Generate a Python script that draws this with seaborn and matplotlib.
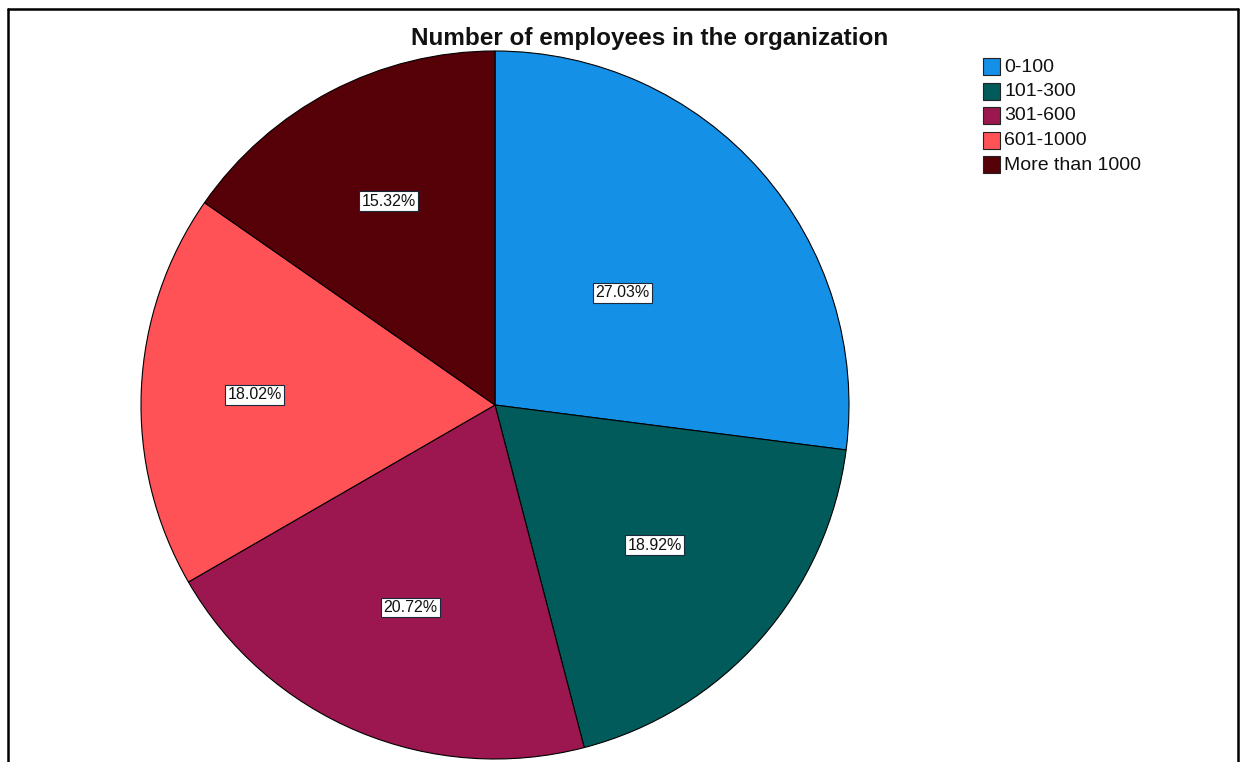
import matplotlib
matplotlib.use("Agg")
import matplotlib.pyplot as plt
import seaborn as sns
import numpy as np
from matplotlib.lines import Line2D

sns.set_theme(style="white")
plt.rcParams['font.family'] = ['Liberation Sans', 'DejaVu Sans']

categories = ["0-100", "101-300", "301-600", "601-1000", "More than 1000"]
counts = [30, 21, 23, 20, 17]
percent_labels = ["27.03%", "18.92%", "20.72%", "18.02%", "15.32%"]
colors = ["#1490E6", "#005B5A", "#9C174F", "#FF5257", "#560008"]
label_radius = [0.48, 0.60, 0.62, 0.68, 0.65]

W, H = 1244, 762
fig = plt.figure(figsize=(W / 100, H / 100), dpi=100)
ax = fig.add_axes([0, 0, 1, 1])

cx, cy, R = 495, H - 405, 354
wedges, _ = ax.pie(counts, colors=colors, startangle=90, counterclock=False,
                   center=(cx, cy), radius=R,
                   wedgeprops=dict(edgecolor="black", linewidth=0.8))
ax.set_xlim(0, W)
ax.set_ylim(0, H)
ax.set_aspect("equal")
ax.axis("off")

for w, lab, rf in zip(wedges, percent_labels, label_radius):
    ang = np.deg2rad((w.theta1 + w.theta2) / 2)
    x = cx + rf * R * np.cos(ang)
    y = cy + rf * R * np.sin(ang)
    ax.text(x, y, lab, ha="center", va="center", fontsize=11.5, color="#111111",
            bbox=dict(boxstyle="square,pad=0.15", facecolor="white",
                      edgecolor="#1a2a3a", linewidth=0.8))

ax.text(650, H - 38, "Number of employees in the organization", ha="center",
        va="center", fontsize=17.5, fontweight="bold", color="#111111")

# legend
for i, (cat, col) in enumerate(zip(categories, colors)):
    yy = H - (67 + i * 24.5)
    ax.add_patch(plt.Rectangle((983, yy - 8), 17, 17, facecolor=col,
                               edgecolor="#222222", linewidth=0.8))
    ax.text(1004, yy, cat, ha="left", va="center", fontsize=14, color="#111111")

# frame
fig.add_artist(Line2D([8 / W, 8 / W], [0, 1 - 9 / H], transform=fig.transFigure,
                      color="black", linewidth=1.8))
fig.add_artist(Line2D([8 / W, 1238 / W], [1 - 9 / H, 1 - 9 / H], transform=fig.transFigure,
                      color="black", linewidth=1.8))
fig.add_artist(Line2D([1238 / W, 1238 / W], [0, 1 - 9 / H], transform=fig.transFigure,
                      color="black", linewidth=1.8))

fig.savefig("out.png", dpi=100, facecolor="white")
